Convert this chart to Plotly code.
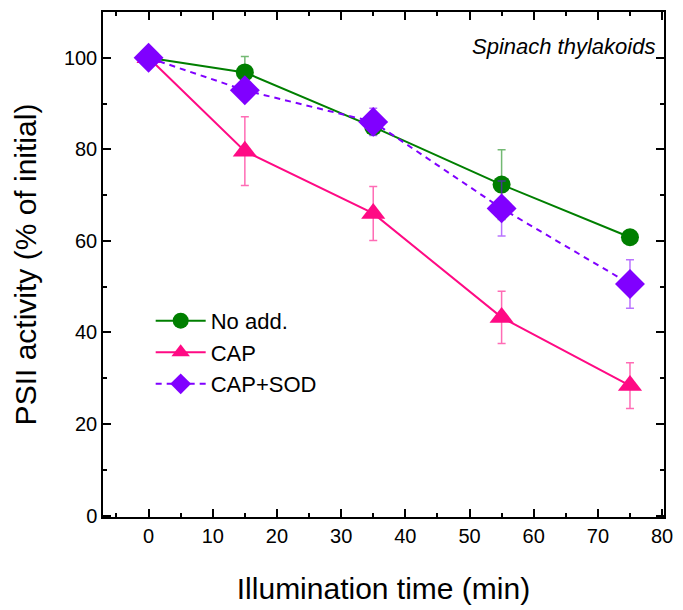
import plotly.graph_objects as go

time_min = [0, 15, 35, 55, 75]
no_add = [100, 96.8, 84.9, 72.3, 60.8]
no_add_err = [0.5, 3.5, 1.0, 7.6, 0.5]
cap = [100, 79.6, 66.0, 43.3, 28.4]
cap_err = [1.5, 7.5, 5.9, 5.7, 5.0]
cap_sod = [100, 92.9, 86.0, 67.1, 50.6]
cap_sod_err = [1.5, 2.0, 3.0, 6.0, 5.3]

x_ticks = [0, 10, 20, 30, 40, 50, 60, 70, 80]
y_ticks = [0, 20, 40, 60, 80, 100]

FONT = "Liberation Sans, Arial, sans-serif"

fig = go.Figure()

series = [
    ("No add.", no_add, no_add_err, "#007F00", "rgba(0,127,0,0.55)", "circle", 18, "solid"),
    ("CAP", cap, cap_err, "#FF0A84", "rgba(255,10,132,0.6)", "triangle-up", 21, "solid"),
    ("CAP+SOD", cap_sod, cap_sod_err, "#8000FF", "rgba(128,0,255,0.55)", "diamond", 23, "6px,5px"),
]
for name, ys, errs, col, ecol, sym, sz, dash in series:
    fig.add_trace(go.Scatter(
        x=time_min, y=ys, name=name, mode="lines+markers",
        line=dict(color=col, width=2, dash=dash),
        marker=dict(symbol=sym, size=sz, color=col),
        error_y=dict(type="data", array=errs, visible=True, color=ecol, thickness=1.5, width=4),
    ))

axis_common = dict(
    showline=True, linecolor="black", linewidth=1.5, mirror="allticks",
    ticks="inside", ticklen=8, tickwidth=1.5, tickcolor="black",
    showgrid=False, zeroline=False,
    tickfont=dict(family=FONT, size=20, color="black"),
    title_font=dict(family=FONT, size=30, color="black"),
)

fig.update_xaxes(range=[-7.1, 80.3], tickvals=x_ticks,
                 minor=dict(dtick=5, ticks="inside", ticklen=4, tickwidth=1.5, tickcolor="black"),
                 title_text="Illumination time (min)", title_standoff=32, **axis_common)
fig.update_yaxes(range=[-0.3, 110], tickvals=y_ticks,
                 minor=dict(dtick=10, ticks="inside", ticklen=4, tickwidth=1.5, tickcolor="black"),
                 title_text="PSII activity (% of initial)", title_standoff=18, **axis_common)

fig.add_annotation(text="<i>Spinach thylakoids</i>", xref="paper", yref="paper",
                   x=0.988, y=0.931, xanchor="right", yanchor="middle", showarrow=False,
                   font=dict(family=FONT, size=22, color="black"))

fig.update_layout(
    width=683, height=610,
    margin=dict(l=103, r=15, t=10, b=92),
    plot_bgcolor="white", paper_bgcolor="white",
    legend=dict(x=0.085, y=0.43, xanchor="left", yanchor="top",
                font=dict(family=FONT, size=22, color="black"),
                bgcolor="rgba(0,0,0,0)", tracegroupgap=0, itemwidth=50),
    showlegend=True,
)

fig.write_html("out.html")
